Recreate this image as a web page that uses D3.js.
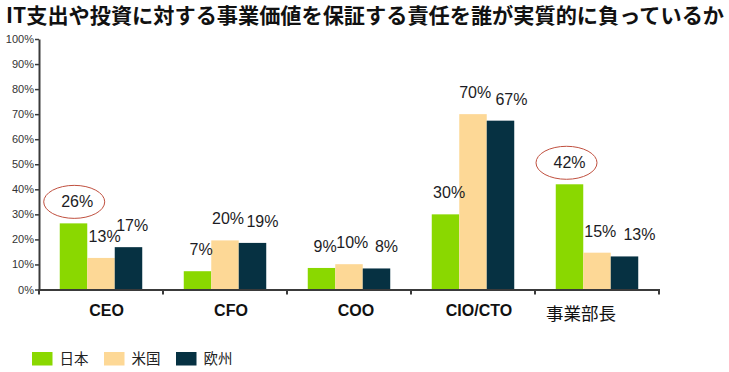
<!DOCTYPE html>
<html>
<head>
<meta charset="utf-8">
<script src="https://cdn.jsdelivr.net/npm/d3@7"></script>
<style>
  html, body { margin: 0; padding: 0; background: #ffffff; }
  svg { display: block; }
</style>
</head>
<body>
<div id="chart"></div>
<script>
// ---------- data ----------
const title = "IT支出や投資に対する事業価値を保証する責任を誰が実質的に負っているか";
const categories = ["CEO", "CFO", "COO", "CIO/CTO", "事業部長"];
const seriesNames = ["日本", "米国", "欧州"];
const japanValues = [26.4, 7.3, 8.6, 30.0, 42.0];
const usValues = [12.6, 19.6, 10.1, 70.0, 14.7];
const europeValues = [16.9, 18.6, 8.4, 67.4, 13.2];
const yTicks = [0, 10, 20, 30, 40, 50, 60, 70, 80, 90, 100];
const highlighted = [{ series: "日本", category: "CEO" }, { series: "日本", category: "事業部長" }];

// ---------- styles / layout ----------
const colors = { "日本": "#8ad800", "米国": "#fdd896", "欧州": "#063142" };
const W = 729, H = 372;
const plot = { left: 39, right: 659, top: 39, bottom: 289.5 };
const labelDx = {
  "CEO": [3.7, 3.6, 3.7],
  "CFO": [3.6, 3.0, 10],
  "COO": [3.6, 3.3, 10],
  "CIO/CTO": [3.6, 2.2, 11],
  "事業部長": [0, 3.3, 15]
};
const catLabelDx = { "CEO": 5.5, "CFO": 6, "COO": 7, "CIO/CTO": 6, "事業部長": -16 };

const valuesBySeries = { "日本": japanValues, "米国": usValues, "欧州": europeValues };
const rows = [];
seriesNames.forEach((s, si) => {
  categories.forEach((c, ci) => rows.push({ series: s, si, category: c, ci, value: valuesBySeries[s][ci] }));
});

const svg = d3.select("#chart").append("svg").attr("width", W).attr("height", H);

// title
svg.append("text")
  .attr("x", 6).attr("y", 23)
  .attr("font-family", "'Noto Sans CJK JP', 'Noto Sans', sans-serif")
  .attr("font-weight", "bold")
  .attr("font-size", 21)
  .attr("fill", "#111")
  .attr("textLength", 718)
  .attr("lengthAdjust", "spacingAndGlyphs")
  .text(title);

// scales
const x0 = d3.scaleBand().domain(categories).range([plot.left, plot.right]).paddingInner(0).paddingOuter(0);
const x1 = d3.scaleBand().domain(seriesNames).range([0, x0.bandwidth()]).paddingInner(0).paddingOuter(0.755);
const y = d3.scaleLinear().domain([0, 100]).range([plot.bottom, plot.top]);

// bars
svg.append("g").selectAll("rect").data(rows).join("rect")
  .attr("x", d => x0(d.category) + x1(d.series))
  .attr("y", d => y(d.value))
  .attr("width", x1.bandwidth())
  .attr("height", d => y(0) - y(d.value))
  .attr("fill", d => colors[d.series]);

// y axis
const yAxis = svg.append("g")
  .attr("transform", `translate(${plot.left},0)`)
  .call(d3.axisLeft(y).tickValues(yTicks).tickSize(4).tickSizeOuter(0).tickPadding(1).tickFormat(d => d + "%"));
yAxis.select(".domain").attr("stroke", "#3a3a3a").attr("stroke-width", 2);
yAxis.selectAll(".tick line").attr("stroke", "#3a3a3a").attr("stroke-width", 1.5);
yAxis.selectAll(".tick text")
  .attr("font-family", "'Liberation Sans', Arial, sans-serif")
  .attr("font-size", 11)
  .attr("fill", "#333");

// x axis line and ticks
const xg = svg.append("g");
xg.append("line")
  .attr("x1", plot.left - 1).attr("x2", plot.right + 1)
  .attr("y1", y(0) + 0.5).attr("y2", y(0) + 0.5)
  .attr("stroke", "#3a3a3a").attr("stroke-width", 2);
const edges = categories.map(c => x0(c)).concat([x0(categories[categories.length - 1]) + x0.bandwidth()]);
xg.selectAll("line.tick").data(edges).join("line")
  .attr("class", "tick")
  .attr("x1", d => d).attr("x2", d => d)
  .attr("y1", y(0)).attr("y2", y(0) + 5)
  .attr("stroke", "#3a3a3a").attr("stroke-width", 2);

// category labels
xg.selectAll("text.cat").data(categories).join("text")
  .attr("class", "cat")
  .attr("x", c => x0(c) + x0.bandwidth() / 2 + catLabelDx[c])
  .attr("y", c => /[A-Za-z]/.test(c) ? 315.5 : 320)
  .attr("text-anchor", "middle")
  .attr("font-family", c => /[A-Za-z]/.test(c) ? "'Liberation Sans', Arial, sans-serif" : "'Noto Sans CJK JP', sans-serif")
  .attr("font-weight", c => /[A-Za-z]/.test(c) ? "bold" : "normal")
  .attr("font-size", c => /[A-Za-z]/.test(c) ? 16 : 17.5)
  .attr("fill", "#111")
  .text(c => c);

// value labels
const fmt = v => Math.round(v) + "%";
const labelX = d => x0(d.category) + x1(d.series) + x1.bandwidth() / 2 + labelDx[d.category][d.si];
const labelY = d => y(d.value) - 16;
svg.append("g").selectAll("text").data(rows).join("text")
  .attr("x", labelX)
  .attr("y", labelY)
  .attr("text-anchor", "middle")
  .attr("font-family", "'Liberation Sans', Arial, sans-serif")
  .attr("font-size", 16)
  .attr("fill", "#1c1c24")
  .text(d => fmt(d.value));

// highlight ellipses
const hiRows = highlighted.map(h => rows.find(r => r.series === h.series && r.category === h.category));
svg.append("g").selectAll("ellipse").data(hiRows).join("ellipse")
  .attr("cx", d => labelX(d) - 3)
  .attr("cy", d => labelY(d) - 5.5)
  .attr("rx", 30.5)
  .attr("ry", 16.5)
  .attr("fill", "none")
  .attr("stroke", "#c0503f")
  .attr("stroke-width", 1);

// legend
const lg = svg.append("g").attr("transform", "translate(32,352)");
const items = lg.selectAll("g").data(seriesNames).join("g")
  .attr("transform", (d, i) => `translate(${i * 72},0)`);
items.append("rect").attr("width", 20.5).attr("height", 13.5).attr("fill", d => colors[d]);
items.append("text")
  .attr("x", 27.5).attr("y", 12)
  .attr("font-family", "'Noto Sans CJK JP', sans-serif")
  .attr("font-size", 14.5)
  .attr("fill", "#222")
  .text(d => d);
</script>
</body>
</html>
